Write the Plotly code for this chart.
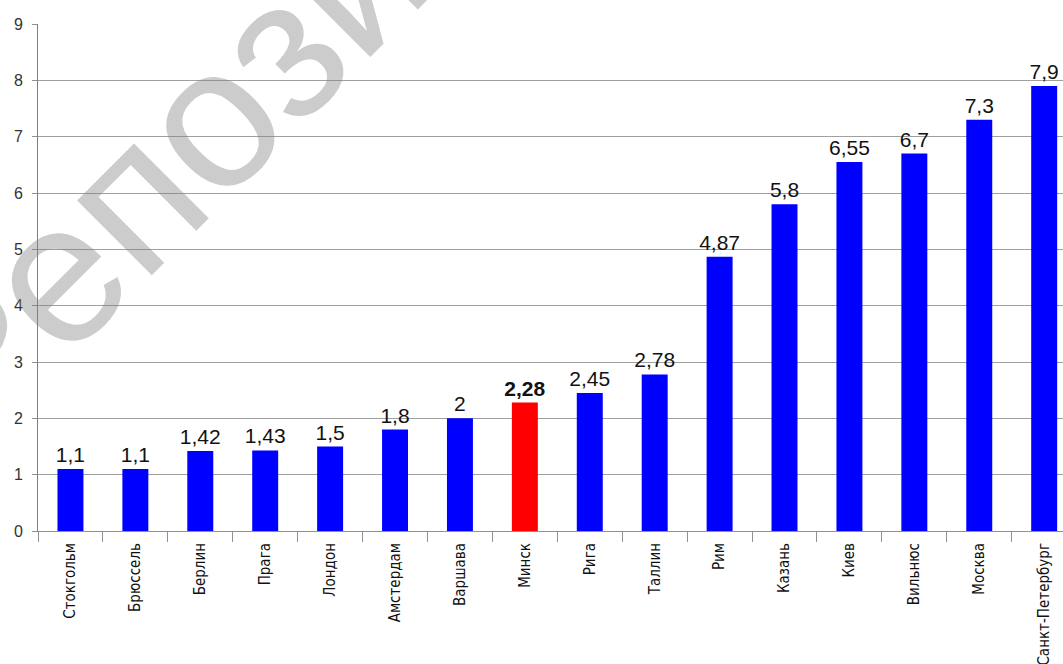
import plotly.graph_objects as go

cities = ["Стокгольм", "Брюссель", "Берлин", "Прага", "Лондон", "Амстердам",
          "Варшава", "Минск", "Рига", "Таллин", "Рим", "Казань", "Киев",
          "Вильнюс", "Москва", "Санкт-Петербург"]
values = [1.1, 1.1, 1.42, 1.43, 1.5, 1.8, 2, 2.28, 2.45, 2.78, 4.87, 5.8,
          6.55, 6.7, 7.3, 7.9]
highlight = "Минск"
y_ticks = [0, 1, 2, 3, 4, 5, 6, 7, 8, 9]

colors = ["#ff0000" if c == highlight else "#0000ff" for c in cities]
labels = []
for c, v in zip(cities, values):
    s = ("%g" % v).replace(".", ",")
    labels.append("<b>%s</b>" % s if c == highlight else s)

fig = go.Figure(go.Bar(
    x=cities, y=values, marker=dict(color=colors, line=dict(width=0)),
    width=0.4, text=labels, textposition="outside", cliponaxis=False,
    constraintext="none", hoverinfo="skip",
    textfont=dict(family="Liberation Sans, Arial, sans-serif", size=21, color="#111"),
))

fig.update_layout(
    width=1063, height=664,
    margin=dict(l=38, r=0, t=24, b=133),
    paper_bgcolor="white", plot_bgcolor="white",
    showlegend=False,
    xaxis=dict(
        range=[-0.5, 15.29], tickangle=-90, ticks="outside", tickson="boundaries",
        ticklen=10, tickcolor="#909090", showline=True, linecolor="#909090",
        automargin=False, ticklabelstandoff=5,
        tickfont=dict(family="DejaVu Sans Condensed, sans-serif",
                      size=15, color="#111"),
        showgrid=False,
    ),
    yaxis=dict(
        range=[0, 9], tickvals=y_ticks, ticks="outside", ticklen=5,
        tickcolor="#909090", showline=True, linecolor="#808080",
        gridcolor="#a0a0a0", gridwidth=1, zeroline=False, automargin=False,
        ticklabelstandoff=6,
        tickfont=dict(family="Liberation Sans, Arial, sans-serif", size=16, color="#333"),
    ),
    annotations=[dict(
        text="Репозиторий", xref="paper", yref="paper", x=0.302, y=1.083,
        xanchor="center", yanchor="middle", showarrow=False, textangle=-45,
        font=dict(family="Liberation Sans, Arial, sans-serif", size=200,
                  color="rgba(128,128,128,0.4)"),
    )],
)

fig.write_html("out.html", config={"displayModeBar": False},
               post_script="document.body.style.margin='0';document.body.style.overflow='hidden';")
